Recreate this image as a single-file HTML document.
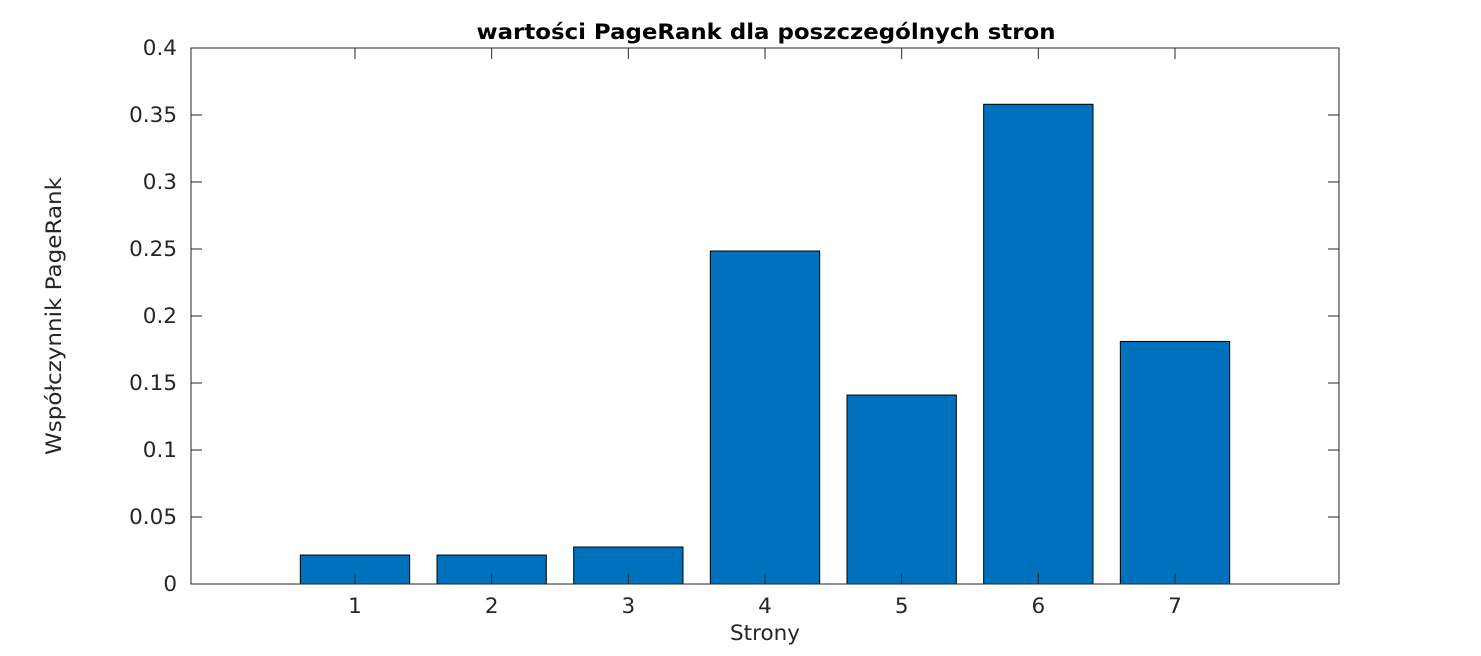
<!DOCTYPE html>
<html><head><meta charset="utf-8"><style>
html,body{margin:0;padding:0;background:#fff;}
svg{display:block;font-family:"DejaVu Sans","Liberation Sans",sans-serif;}
</style></head><body>
<svg id="chart" width="1481" height="656" viewBox="0 0 1481 656">
<rect x="0" y="0" width="1481" height="656" fill="#fff"/>
<text x="766" y="39" text-anchor="middle" font-size="21" font-weight="bold" fill="#000" textLength="579" lengthAdjust="spacingAndGlyphs">wartości PageRank dla poszczególnych stron</text>
<g id="bars"></g>
<g id="axes"></g>
<text x="765" y="640" text-anchor="middle" font-size="21.5" fill="#262626">Strony</text>
<text transform="translate(61,316) rotate(-90)" text-anchor="middle" font-size="21" fill="#262626" textLength="278" lengthAdjust="spacingAndGlyphs">Współczynnik PageRank</text>
</svg>
<script>
const categories = [1,2,3,4,5,6,7];
const values = [0.0216,0.0216,0.0276,0.2485,0.141,0.358,0.181];
const yTicks = [0,0.05,0.1,0.15,0.2,0.25,0.3,0.35,0.4];
const yTickLabels = ["0","0.05","0.1","0.15","0.2","0.25","0.3","0.35","0.4"];

const L=191,R=1339,T=48,B=584;
const xMin=-0.2,xMax=8.2,yMin=0,yMax=0.4;
function xs(v){return L+(v-xMin)/(xMax-xMin)*(R-L);}
function ys(v){return B-(v-yMin)/(yMax-yMin)*(B-T);}
const NS="http://www.w3.org/2000/svg";
const bars=document.getElementById('bars');
const axes=document.getElementById('axes');
const bw=0.8*(xs(1)-xs(0));
categories.forEach((c,i)=>{
  const r=document.createElementNS(NS,'rect');
  r.setAttribute('x',xs(c)-bw/2);
  r.setAttribute('y',ys(values[i]));
  r.setAttribute('width',bw);
  r.setAttribute('height',ys(0)-ys(values[i]));
  r.setAttribute('fill','#0072bd');
  r.setAttribute('stroke','#000');
  r.setAttribute('stroke-width','1');
  
  
  bars.appendChild(r);
});
const box=document.createElementNS(NS,'rect');
box.setAttribute('x',L);box.setAttribute('y',T);box.setAttribute('width',R-L);box.setAttribute('height',B-T);
box.setAttribute('fill','none');box.setAttribute('stroke','#262626');box.setAttribute('stroke-width','1');


axes.appendChild(box);
function line(x1,y1,x2,y2,name){
  const l=document.createElementNS(NS,'line');
  l.setAttribute('x1',x1);l.setAttribute('y1',y1);l.setAttribute('x2',x2);l.setAttribute('y2',y2);
  l.setAttribute('stroke','#262626');l.setAttribute('stroke-width','1');
  
  
  axes.appendChild(l);
}
function text(x,y,s,anchor,name){
  const t=document.createElementNS(NS,'text');
  t.setAttribute('x',x);t.setAttribute('y',y);t.setAttribute('text-anchor',anchor);
  t.setAttribute('font-size','21.5');t.setAttribute('fill','#262626');
  t.textContent=s;
  
  
  axes.appendChild(t);
}
yTicks.forEach((v,i)=>{
  const y=ys(v);
  line(L,y,L+11,y,'y-tick');
  line(R,y,R-11,y,'y-tick-right');
  text(L-14,y+7,yTickLabels[i],'end','y-tick-label');
});
categories.forEach(c=>{
  const x=xs(c);
  line(x,B,x,B-11,'x-tick');
  line(x,T,x,T+11,'x-tick-top');
  text(x,613,String(c),'middle','x-tick-label');
});
</script>
</body></html>
